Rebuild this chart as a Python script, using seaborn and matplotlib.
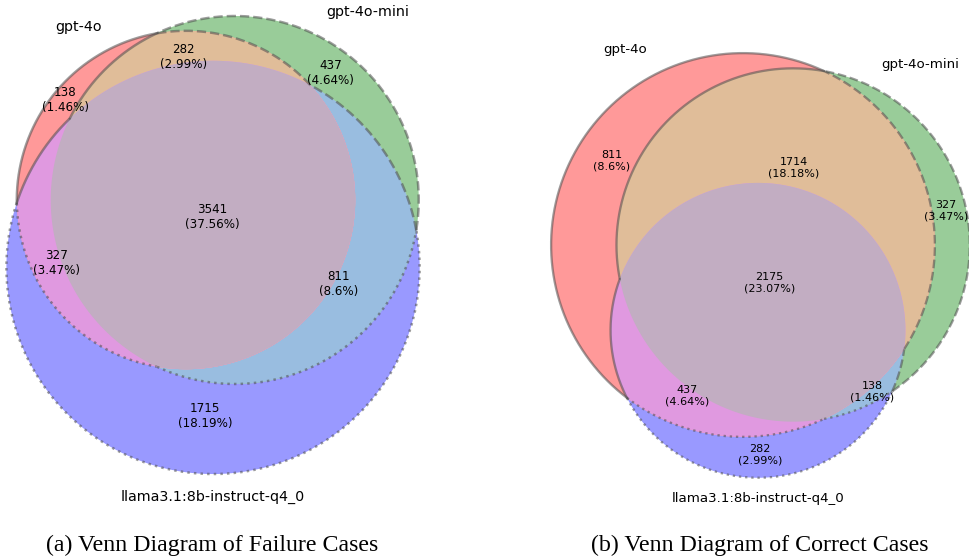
import numpy as np
import matplotlib
matplotlib.use("Agg")
import matplotlib.pyplot as plt
import seaborn as sns
from matplotlib.patches import Polygon

# ---------------- data ----------------
set_names = ["gpt-4o", "gpt-4o-mini", "llama3.1:8b-instruct-q4_0"]
region_ids = ["100", "010", "110", "001", "101", "011", "111"]
failure_counts = [138, 437, 282, 1715, 327, 811, 3541]
correct_counts = [811, 327, 1714, 282, 437, 138, 2175]
total_cases = 9427
captions = ["(a) Venn Diagram of Failure Cases", "(b) Venn Diagram of Correct Cases"]

# ---------------- style / layout ----------------
sns.set_theme(style="white")
plt.rcParams["font.family"] = ["DejaVu Sans"]
plt.rcParams["text.color"] = "black"

W, H = 969, 559
set_rgb = np.array([[1.0, 0.0, 0.0], [0.0, 0.5, 0.0], [0.0, 0.0, 1.0]])
ALPHA = 0.4
linestyles = ["solid", "dashed", "dotted"]
edge_rgba = (0.3, 0.3, 0.3, 0.55)

# per panel: pixel of first circle centre, pixels per normalised unit, caption centre x
panels = [
    dict(counts=failure_counts, anchor=(186, 200), scale=390, cap_x=212),
    dict(counts=correct_counts, anchor=(743, 245), scale=364, cap_x=760),
]


def region_color(rid):
    bits = [i for i, b in enumerate(rid) if b == "1"]
    cols = set_rgb[bits]
    if len(bits) == 1:
        mix = cols[0]
    elif len(bits) == 2:
        mix = 0.7 * cols.sum(0)
    else:
        mix = 0.4 * cols.sum(0)
    mix = np.minimum(mix, 1.0)
    return 1 - ALPHA * (1 - mix)


def lens_area(r1, r2, d):
    if d >= r1 + r2:
        return 0.0
    if d <= abs(r1 - r2):
        return np.pi * min(r1, r2) ** 2
    a1 = r1 ** 2 * np.arccos((d * d + r1 * r1 - r2 * r2) / (2 * d * r1))
    a2 = r2 ** 2 * np.arccos((d * d + r2 * r2 - r1 * r1) / (2 * d * r2))
    a3 = 0.5 * np.sqrt((-d + r1 + r2) * (d + r1 - r2) * (d - r1 + r2) * (d + r1 + r2))
    return a1 + a2 - a3


def solve_distance(r1, r2, target):
    lo, hi = abs(r1 - r2), r1 + r2
    for _ in range(200):
        mid = 0.5 * (lo + hi)
        if lens_area(r1, r2, mid) > target:
            lo = mid
        else:
            hi = mid
    return 0.5 * (lo + hi)


def layout(counts):
    c = dict(zip(region_ids, counts))
    sizes = np.array([sum(v for k, v in c.items() if k[i] == "1") for i in range(3)])
    r = np.sqrt(sizes / np.pi)

    def inter(i, j):
        return sum(v for k, v in c.items() if k[i] == "1" and k[j] == "1")

    dab = solve_distance(r[0], r[1], inter(0, 1))
    dac = solve_distance(r[0], r[2], inter(0, 2))
    dbc = solve_distance(r[1], r[2], inter(1, 2))
    cx = (dac ** 2 - dbc ** 2 + dab ** 2) / (2 * dab)
    cy = -np.sqrt(max(dac ** 2 - cx ** 2, 0.0))
    centers = np.array([[0.0, 0.0], [dab, 0.0], [cx, cy]])
    return centers, r


def inside(p, centers, radii, j):
    return np.hypot(p[:, 0] - centers[j, 0], p[:, 1] - centers[j, 1]) <= radii[j]


def intersection_polygon(centers, radii, idx, n=2000):
    t = np.linspace(0, 2 * np.pi, n, endpoint=False)
    pts = []
    for i in idx:
        p = centers[i] + radii[i] * np.c_[np.cos(t), np.sin(t)]
        m = np.ones(n, bool)
        for j in idx:
            if j != i:
                m &= inside(p, centers, radii, j)
        pts.append(p[m])
    pts = np.vstack(pts)
    c = pts.mean(0)
    order = np.argsort(np.arctan2(pts[:, 1] - c[1], pts[:, 0] - c[0]))
    return pts[order]


def boundary_mask(centers, radii, k, rid, p):
    m = np.ones(len(p), bool)
    for j in range(3):
        if j != k:
            m &= inside(p, centers, radii, j) == (rid[j] == "1")
    return m


def runs(mask):
    """contiguous True runs on a circular array -> list of index arrays"""
    n = len(mask)
    if mask.all():
        return [np.arange(n)]
    start = int(np.argmin(mask))  # a False index
    idx = (np.arange(n) + start) % n
    m = mask[idx]
    out, cur = [], []
    for ii, v in zip(idx, m):
        if v:
            cur.append(ii)
        elif cur:
            out.append(np.array(cur))
            cur = []
    if cur:
        out.append(np.array(cur))
    return out


N = 3600
T = np.linspace(0, 2 * np.pi, N, endpoint=False)

fig = plt.figure(figsize=(W / 100, H / 100), dpi=100)

for pi, pan in enumerate(panels):
    counts = pan["counts"]
    centers, radii = layout(counts)
    union = sum(counts)
    s = pan["scale"] / np.sqrt(union)  # pixels per data unit
    fscale = pan["scale"] / 390.0
    axp, ayp = pan["anchor"]

    ax = fig.add_axes([0, 0, 1, 1])
    ax.set_xlim(-axp / s, (W - axp) / s)
    ax.set_ylim((ayp - H) / s, ayp / s)
    ax.set_axis_off()
    ax.patch.set_alpha(0)

    # fills, layered so that each visible area gets its region colour
    order = [("001", [2]), ("010", [1]), ("011", [1, 2]), ("100", [0]),
             ("110", [0, 1]), ("101", [0, 2]), ("111", [0, 1, 2])]
    for z, (rid, idx) in enumerate(order):
        poly = intersection_polygon(centers, radii, idx)
        ax.add_patch(Polygon(poly, closed=True, facecolor=region_color(rid),
                             edgecolor="none", zorder=1 + z * 0.01))

    # outlines of the single-set regions
    for i in range(3):
        rid = "".join("1" if j == i else "0" for j in range(3))
        for k in range(3):
            p = centers[k] + radii[k] * np.c_[np.cos(T), np.sin(T)]
            m = boundary_mask(centers, radii, k, rid, p)
            for rr in runs(m):
                seg = p[rr]
                ax.plot(seg[:, 0], seg[:, 1], color=edge_rgba,
                        lw=1.8 * fscale, ls=linestyles[i], zorder=3)

    # region labels: arc-length weighted mean of boundary arc midpoints
    for rid, cnt in zip(region_ids, counts):
        tot_w, acc = 0.0, np.zeros(2)
        for k in range(3):
            p = centers[k] + radii[k] * np.c_[np.cos(T), np.sin(T)]
            m = boundary_mask(centers, radii, k, rid, p)
            for rr in runs(m):
                length = len(rr) * radii[k] * 2 * np.pi / N
                mid = p[rr[len(rr) // 2]]
                acc += length * mid
                tot_w += length
        pos = acc / tot_w
        pct = round(100 * cnt / total_cases, 2)
        ax.text(pos[0], pos[1], f"{cnt}\n({pct}%)", ha="center", va="center",
                multialignment="center", fontsize=8.6 * fscale, color="black",
                zorder=5)

    # set labels
    lab_fs = 10.3 * fscale
    ax.text(centers[0, 0] - radii[0] / 2, centers[0, 1] + radii[0], set_names[0],
            ha="right", va="baseline", fontsize=lab_fs, color="black", zorder=5)
    ax.text(centers[1, 0] + radii[1] / 2, centers[1, 1] + radii[1], set_names[1],
            ha="left", va="baseline", fontsize=lab_fs, color="black", zorder=5)
    ax.text(centers[2, 0], centers[2, 1] - radii[2] - 0.04 * np.sqrt(union), set_names[2],
            ha="center", va="top", fontsize=lab_fs, color="black", zorder=5)

    fig.text(pan["cap_x"] / W, 1 - 545 / H, captions[pi], ha="center", va="center",
             fontsize=17.2, color="black", family=["Liberation Serif", "DejaVu Serif"])

fig.savefig("out.png", dpi=100)
